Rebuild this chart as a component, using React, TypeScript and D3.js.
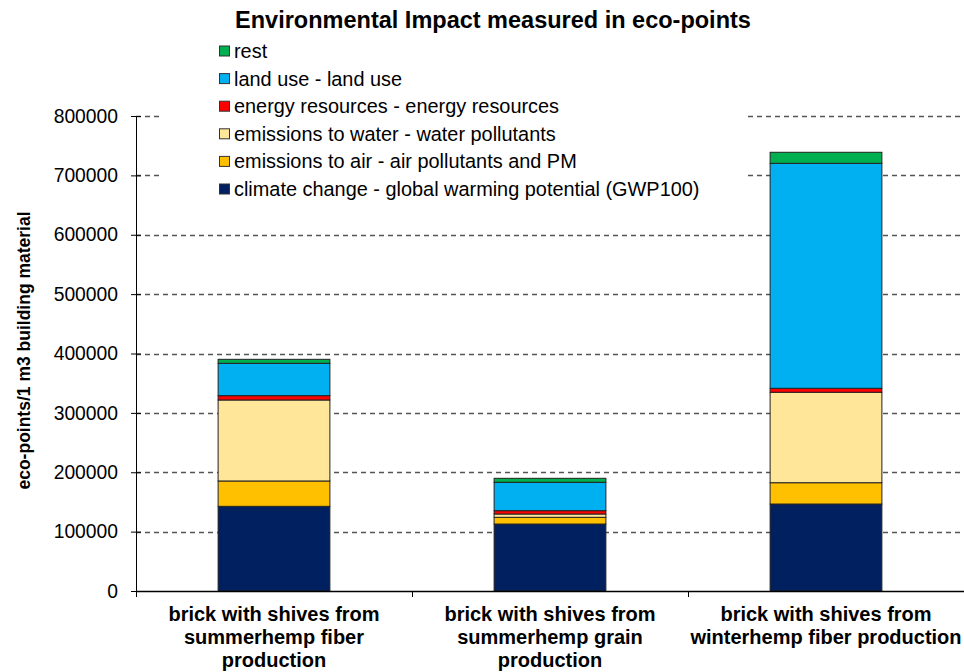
import React, { useRef, useEffect } from 'react';
import * as d3 from 'd3';

const categories = [
  ['brick with shives from', 'summerhemp fiber', 'production'],
  ['brick with shives from', 'summerhemp grain', 'production'],
  ['brick with shives from', 'winterhemp fiber production'],
];

// stack order bottom -> top
const seriesNames = [
  'climate change - global warming potential (GWP100)',
  'emissions to air - air pollutants and PM',
  'emissions to water - water pollutants',
  'energy resources - energy resources',
  'land use - land use',
  'rest',
];
const seriesColors = ['#002060', '#FFC000', '#FFE699', '#FF0000', '#00B0F0', '#00B050'];

const climateChange = [142600, 112800, 146500];
const emissionsAir = [42700, 11300, 35900];
const emissionsWater = [136400, 5600, 152300];
const energyResources = [7300, 5600, 6700];
const landUse = [54500, 47800, 378900];
const rest = [6700, 6700, 18600];

const yTicks = [0, 100000, 200000, 300000, 400000, 500000, 600000, 700000, 800000];

const W = 964;
const H = 672;
const FONT = 'Arial, "Liberation Sans", sans-serif';

const App: React.FC = () => {
  const svgRef = useRef<SVGSVGElement | null>(null);

  useEffect(() => {
    const svg = d3.select(svgRef.current);
    svg.selectAll('*').remove();

    const margin = { top: 116, right: 0, bottom: 81, left: 136 };
    const width = W - margin.left - margin.right;
    const height = H - margin.top - margin.bottom;

    const values = [climateChange, emissionsAir, emissionsWater, energyResources, landUse, rest];
    const table = categories.map((_, i) => {
      const row: Record<string, number> = { idx: i };
      seriesNames.forEach((s, j) => { row[s] = values[j][i]; });
      return row;
    });
    const stacked = d3.stack<Record<string, number>>().keys(seriesNames)(table);

    const x = d3.scaleBand<number>()
      .domain(categories.map((_, i) => i))
      .range([0, width])
      .padding(0);

    const y = d3.scaleLinear()
      .domain([0, 800000])
      .range([height, 0]);

    const barW = x.bandwidth() * 0.405;

    const g = svg.append('g')
      .attr('transform', `translate(${margin.left},${margin.top})`);

    // grid lines
    g.append('g')
      .selectAll('line')
      .data(yTicks.slice(1))
      .enter()
      .append('line')
      .attr('x1', 0)
      .attr('x2', width)
      .attr('y1', d => Math.round(y(d)) + 0.5)
      .attr('y2', d => Math.round(y(d)) + 0.5)
      .attr('stroke', '#555')
      .attr('stroke-width', 1.3)
      .attr('stroke-dasharray', '5,4');

    // bars
    stacked.forEach((layer, j) => {
      g.append('g')
        .selectAll('rect')
        .data(layer)
        .enter()
        .append('rect')
        .attr('x', (_, i) => (x(i) as number) + (x.bandwidth() - barW) / 2)
        .attr('width', barW)
        .attr('y', d => y(d[1]))
        .attr('height', d => y(d[0]) - y(d[1]))
        .attr('fill', seriesColors[j])
        .attr('stroke', '#222')
        .attr('stroke-width', 1);
    });

    // y axis
    const yAxis = g.append('g')
      .call(d3.axisLeft(y).tickValues(yTicks).tickSize(5).tickSizeOuter(0).tickFormat(d => `${d}`));
    yAxis.select('.domain').attr('stroke', '#000');
    yAxis.selectAll('.tick line').attr('stroke', '#000').attr('x2', 5).attr('x1', -5);
    yAxis.selectAll('.tick text')
      .attr('x', -18)
      .style('font-family', FONT)
      .style('font-size', '19.3px')
      .attr('fill', '#000');

    // x axis
    g.append('line')
      .attr('x1', 0).attr('x2', width)
      .attr('y1', height + 0.5).attr('y2', height + 0.5)
      .attr('stroke', '#000').attr('stroke-width', 1.3);
    g.append('g')
      .selectAll('line')
      .data(categories.map((_, i) => i))
      .enter()
      .append('line')
      .attr('x1', d => (x(d) as number) + 0.5)
      .attr('x2', d => (x(d) as number) + 0.5)
      .attr('y1', height)
      .attr('y2', height + 6)
      .attr('stroke', '#000');

    // category labels
    categories.forEach((lines, i) => {
      const cx = (x(i) as number) + x.bandwidth() / 2;
      const t = g.append('text')
        .attr('text-anchor', 'middle')
        .attr('transform', `translate(${cx},${height + 30})`)
        .style('font-family', FONT)
        .style('font-weight', 'bold')
        .style('font-size', '20px')
        .attr('fill', '#000');
      lines.forEach((l, k) => {
        t.append('tspan')
          .attr('x', 0)
          .attr('dy', k === 0 ? 0 : 23)
          .text(l);
      });
    });

    // y label
    svg.append('text')
      .attr('transform', `translate(30,${margin.top + height / 2 - 3}) rotate(-90)`)
      .attr('text-anchor', 'middle')
      .style('font-family', FONT)
      .style('font-weight', 'bold')
      .style('font-size', '17.5px')
      .attr('fill', '#000')
      .text('eco-points/1 m3 building material');

    // title
    svg.append('text')
      .attr('x', 493)
      .attr('y', 28)
      .attr('text-anchor', 'middle')
      .style('font-family', FONT)
      .style('font-weight', 'bold')
      .style('font-size', '23.5px')
      .attr('fill', '#000')
      .text('Environmental  Impact measured in eco-points');

    // legend
    const legend = svg.append('g');
    legend.append('rect')
      .attr('x', 160).attr('y', 36)
      .attr('width', 588).attr('height', 166)
      .attr('fill', '#fff');
    const order = [5, 4, 3, 2, 1, 0];
    order.forEach((j, k) => {
      const cy = 51 + k * 27.6;
      legend.append('rect')
        .attr('x', 219.5).attr('y', cy - 5)
        .attr('width', 10).attr('height', 10)
        .attr('fill', seriesColors[j])
        .attr('stroke', '#333')
        .attr('stroke-width', 1);
      legend.append('text')
        .attr('x', 234)
        .attr('y', cy)
        .attr('dy', '0.35em')
        .style('font-family', FONT)
        .style('font-size', '19.9px')
        .attr('fill', '#000')
        .text(seriesNames[j]);
    });
  }, []);

  return (
    <svg
      ref={svgRef}
      width={W}
      height={H}
      style={{ position: 'absolute', left: 0, top: 0, background: '#fff' }}
    />
  );
};

export default App;
